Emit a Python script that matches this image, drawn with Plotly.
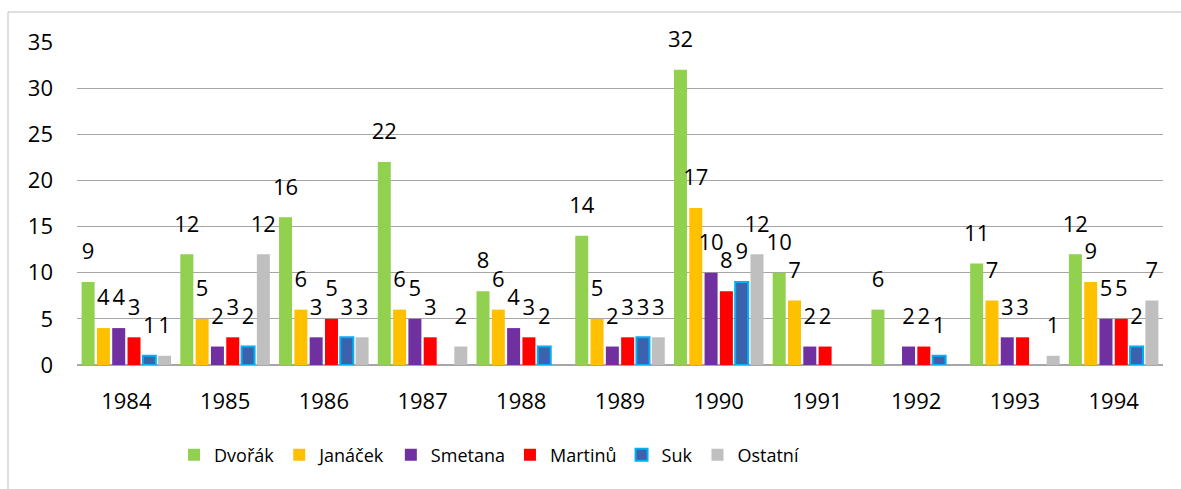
import plotly.graph_objects as go

years = ["1984", "1985", "1986", "1987", "1988", "1989", "1990", "1991", "1992", "1993", "1994"]
dvorak = [9, 12, 16, 22, 8, 14, 32, 10, 6, 11, 12]
janacek = [4, 5, 6, 6, 6, 5, 17, 7, None, 7, 9]
smetana = [4, 2, 3, 5, 4, 2, 10, 2, 2, 3, 5]
martinu = [3, 3, 5, 3, 3, 3, 8, 2, 2, 3, 5]
suk = [1, 2, 3, None, 2, 3, 9, None, 1, None, 2]
ostatni = [1, 12, 3, 2, None, 3, 12, None, None, 1, 7]

series = [
    ("Dvořák", dvorak, "#92D050", None),
    ("Janáček", janacek, "#FFC000", None),
    ("Smetana", smetana, "#7030A0", None),
    ("Martinů", martinu, "#FF0000", None),
    ("Suk", suk, "#3C62AE", "#00B0F0"),
    ("Ostatní", ostatni, "#BFBFBF", None),
]

FONT = "Open Sans"
fig = go.Figure()
for name, vals, col, line in series:
    fig.add_trace(go.Bar(
        name=name, x=years, y=vals,
        marker=dict(color=col,
                    line=dict(color=line if line else col, width=2 if line else 0)),
        offsetgroup=name,
    ))
for name, vals, col, line in series:
    fig.add_trace(go.Scatter(
        name=name, x=years, y=vals, mode="markers+text",
        text=[("" if v is None else str(v)) for v in vals],
        textposition="top center",
        textfont=dict(family=FONT, size=22, color="#000000"),
        marker=dict(size=26, opacity=0),
        offsetgroup=name, showlegend=False, hoverinfo="skip",
        cliponaxis=False,
    ))

L, R, T, B = 77, 18, 42, 124
W, H = 1181, 489
pw, ph = W - L - R, H - T - B

def px_x(x):
    return (x - L) / pw

def px_y(y):
    return (H - B - y) / ph

fig.update_layout(
    width=W, height=H,
    margin=dict(l=L, r=R, t=T, b=B),
    paper_bgcolor="white", plot_bgcolor="white",
    barmode="group", bargap=0.07, bargroupgap=0.15,
    scattermode="group", scattergap=0.07,
    font=dict(family=FONT, size=22, color="#000000"),
    showlegend=True,
    legend=dict(orientation="h", x=px_x(489), xanchor="center",
                y=px_y(455), yanchor="middle",
                font=dict(family=FONT, size=18, color="#000000"),
                itemwidth=30, traceorder="normal"),
    xaxis=dict(type="category", showgrid=False, showline=True,
               linecolor="#A6A6A6", linewidth=1, ticks="",
               ticklabelstandoff=17,
               tickfont=dict(family=FONT, size=22)),
    yaxis=dict(range=[0, 35], dtick=5, showgrid=True, gridcolor="#A6A6A6",
               gridwidth=1, zeroline=True, zerolinecolor="#A6A6A6",
               ticks="", ticklabelstandoff=23,
               tickfont=dict(family=FONT, size=22)),
    shapes=[dict(type="rect", xref="paper", yref="paper",
                 x0=px_x(8), x1=px_x(1190), y0=px_y(500), y1=px_y(12),
                 line=dict(color="#BFBFBF", width=1), layer="below")],
)

fig.write_html("out.html", config={"displayModeBar": False},
               post_script="document.body.style.margin='0';")
